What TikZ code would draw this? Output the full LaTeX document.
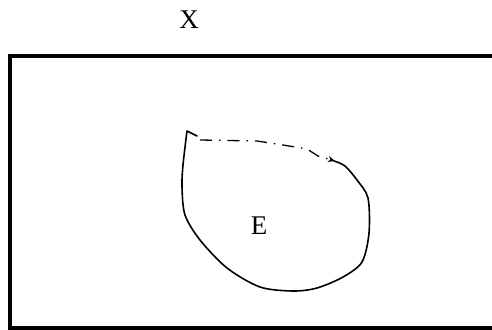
\documentclass[tikz,border=0pt]{standalone}
\usepackage{fontspec}
\setmainfont{Liberation Serif}
\usetikzlibrary{arrows.meta}

\begin{document}
\begin{tikzpicture}[x=1pt,y=-1pt,
  setlabel/.style={anchor=center,inner sep=0pt,font=\fontsize{27}{32}\selectfont},
  sketch/.style={line width=1.6pt,line join=round,line cap=round}]
% 492 x 329, set X with subset E
\useasboundingbox (0,0) rectangle (492,329);
\clip (0,0) rectangle (492,329);
\path[fill=white] (0,0) rectangle (492,329);
\draw[line width=4pt] (10,56.5) rectangle (500,327.5);
\node[setlabel] (setX) at (189,20) {X};
\node[setlabel] (setE) at (259,226) {E};
\coordinate (tip) at (187,131);
\coordinate (join) at (335,161);
\draw[sketch] plot[smooth,tension=0.5] coordinates {(334,161) (345,166)
  (357,180) (368,198) (369,233) (362,262) (343,277) (317,288) (293,291)
  (260,287) (227,268) (200,240) (185,215) (182,187) (183,165) (187,131)}
  -- (197,136);
\draw[line width=1.3pt,dash pattern=on 12pt off 7pt on 1.5pt off 7pt,
  -{Stealth[length=7pt,width=6pt]}]
  (200,140) -- (257,141) -- (283,145) -- (307,149) -- (318,156) -- (join);
\end{tikzpicture}
\end{document}
